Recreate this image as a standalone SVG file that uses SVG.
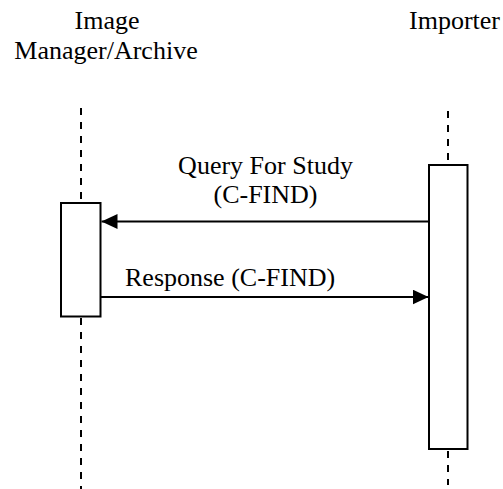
<svg xmlns="http://www.w3.org/2000/svg" width="503" height="489" viewBox="0 0 503 489">
<style>
text{font-family:"Liberation Serif","Times New Roman",serif;font-size:26px;fill:#000}
.life{stroke:#000;stroke-width:2;stroke-dasharray:7 7;fill:none}
.box{fill:#fff;stroke:#000;stroke-width:2}
.msg{stroke:#000;stroke-width:2;fill:none}
</style>
<defs>
<marker id="ah" viewBox="0 0 16 15" refX="16" refY="7.5" markerWidth="16" markerHeight="15" markerUnits="userSpaceOnUse" orient="auto">
<path d="M0,0 L16,7.5 L0,15 Z" fill="#000"/>
</marker>
</defs>
<g id="archive">
<text x="107" y="29" text-anchor="middle">Image</text>
<text x="106" y="59" text-anchor="middle">Manager/Archive</text>
<line class="life" x1="81" y1="108" x2="81" y2="203"/>
<line class="life" x1="81" y1="318" x2="81" y2="489"/>
<rect class="box" x="61" y="203" width="39.5" height="113.5"/>
</g>
<g id="importer">
<text x="454.5" y="29" text-anchor="middle">Importer</text>
<line class="life" x1="448" y1="111" x2="448" y2="165"/>
<line class="life" x1="448" y1="451" x2="448" y2="485"/>
<rect class="box" x="429" y="165" width="38.5" height="284"/>
</g>
<g id="connectors">
<line class="msg" x1="429" y1="221.5" x2="101.5" y2="221.5" marker-end="url(#ah)"/>
<text x="265.5" y="174" text-anchor="middle">Query For Study</text>
<text x="265.5" y="203" text-anchor="middle">(C-FIND)</text>
<line class="msg" x1="100.5" y1="297" x2="428.5" y2="297" marker-end="url(#ah)"/>
<text x="125" y="286">Response (C-FIND)</text>
</g>
</svg>
